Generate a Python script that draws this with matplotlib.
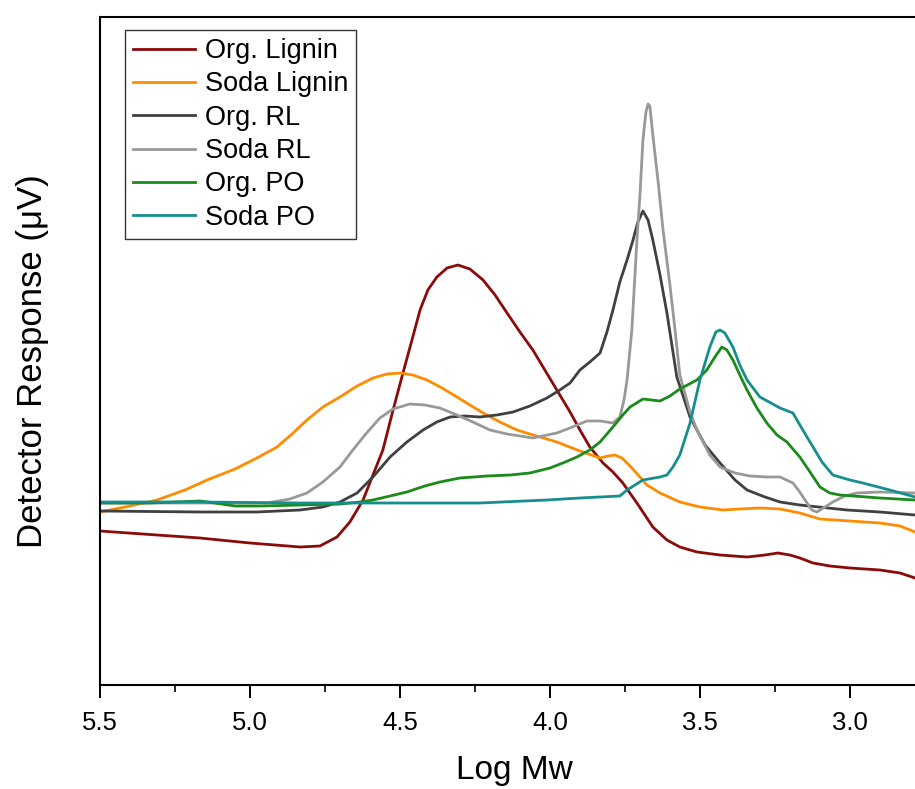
import matplotlib
matplotlib.use("Agg")
import matplotlib.pyplot as plt
from matplotlib.ticker import MultipleLocator, FormatStrFormatter

plt.rcParams['font.family'] = ['Liberation Sans', 'DejaVu Sans']

# ---- data (x = Log Mw, y = detector response, arbitrary units) ----
org_lignin_x = [5.500, 5.167, 5.000, 4.833, 4.767, 4.710, 4.667, 4.623, 4.590, 4.557, 4.523, 4.490,
                4.460, 4.433, 4.407, 4.377, 4.343, 4.307, 4.267, 4.223, 4.183, 4.143, 4.100, 4.057,
                4.017, 3.977, 3.933, 3.900, 3.867, 3.823, 3.790, 3.757, 3.710, 3.657, 3.610, 3.567,
                3.510, 3.433, 3.343, 3.283, 3.240, 3.200, 3.167, 3.123, 3.067, 3.000, 2.900, 2.833, 2.783]
org_lignin_y = [154, 147, 142, 138, 139, 148, 163, 185, 210, 235, 275, 312,
                345, 375, 395, 408, 417, 420, 416, 405, 390, 372, 353, 335,
                315, 295, 273, 255, 238, 222, 213, 202, 182, 158, 145, 138,
                133, 130, 128, 130, 132, 130, 127, 122, 119, 117, 115, 112, 107]

soda_lignin_x = [5.500, 5.400, 5.310, 5.217, 5.143, 5.050, 4.977, 4.910, 4.860, 4.810, 4.757, 4.700,
                 4.643, 4.590, 4.543, 4.500, 4.457, 4.410, 4.360, 4.310, 4.267, 4.223, 4.167, 4.110,
                 4.067, 3.977, 3.900, 3.833, 3.807, 3.783, 3.760, 3.733, 3.700, 3.677, 3.633, 3.567,
                 3.500, 3.423, 3.367, 3.300, 3.233, 3.167, 3.100, 3.000, 2.900, 2.833, 2.783]
soda_lignin_y = [173, 179, 185, 195, 205, 216, 227, 238, 251, 265, 278, 288,
                 299, 307, 311, 312, 310, 305, 297, 288, 280, 272, 263, 255,
                 251, 243, 234, 227, 229, 230, 227, 219, 208, 200, 192, 183,
                 178, 175, 176, 177, 176, 172, 166, 164, 162, 159, 153]

org_rl_x = [5.500, 5.167, 4.977, 4.833, 4.757, 4.700, 4.643, 4.590, 4.533, 4.477, 4.423, 4.377,
            4.333, 4.283, 4.233, 4.177, 4.123, 4.067, 4.010, 3.967, 3.933, 3.900, 3.867, 3.833,
            3.810, 3.790, 3.767, 3.743, 3.723, 3.707, 3.690, 3.673, 3.657, 3.633, 3.610, 3.577,
            3.533, 3.483, 3.433, 3.383, 3.343, 3.283, 3.233, 3.167, 3.010, 2.900, 2.783]
org_rl_y = [174, 173, 173, 175, 178, 183, 192, 208, 228, 243, 255, 263,
            268, 269, 268, 270, 273, 279, 287, 295, 302, 315, 323, 332,
            353, 375, 403, 425, 445, 463, 474, 465, 445, 410, 372, 308,
            268, 240, 222, 205, 195, 188, 183, 180, 175, 173, 170]

soda_rl_x = [5.500, 5.167, 4.943, 4.867, 4.810, 4.757, 4.700, 4.657, 4.617, 4.567, 4.523, 4.467,
             4.417, 4.367, 4.310, 4.257, 4.200, 4.143, 4.057, 3.977, 3.933, 3.877, 3.833, 3.790,
             3.767, 3.753, 3.743, 3.727, 3.710, 3.700, 3.690, 3.680, 3.673, 3.667, 3.657, 3.640,
             3.623, 3.600, 3.583, 3.567, 3.533, 3.510, 3.467, 3.433, 3.383, 3.333, 3.277, 3.233,
             3.190, 3.167, 3.143, 3.127, 3.110, 3.083, 3.057, 3.017, 2.977, 2.900, 2.783]
soda_rl_y = [182, 182, 182, 186, 192, 203, 218, 235, 250, 267, 276, 281,
             280, 277, 270, 263, 255, 251, 247, 252, 257, 264, 264, 262,
             268, 285, 305, 355, 445, 490, 545, 573, 581, 579, 550, 505,
             455, 400, 355, 310, 273, 255, 230, 218, 212, 209, 208, 208,
             202, 193, 182, 175, 173, 178, 183, 189, 192, 193, 192]

org_po_x = [5.500, 5.333, 5.167, 5.117, 5.050, 4.967, 4.833, 4.700, 4.633, 4.590, 4.533, 4.477,
            4.417, 4.367, 4.300, 4.210, 4.133, 4.067, 4.000, 3.957, 3.910, 3.867, 3.833, 3.790,
            3.760, 3.733, 3.690, 3.633, 3.600, 3.567, 3.510, 3.477, 3.450, 3.427, 3.410, 3.390,
            3.367, 3.343, 3.310, 3.277, 3.243, 3.210, 3.167, 3.133, 3.100, 3.067, 3.033, 2.900, 2.783]
org_po_y = [182, 182, 184, 182, 179, 179, 180, 181, 183, 185, 189, 193,
            199, 203, 207, 209, 210, 212, 217, 222, 228, 235, 243, 258,
            269, 278, 286, 284, 289, 296, 305, 315, 328, 338, 335, 325,
            310, 295, 277, 262, 250, 243, 228, 213, 198, 192, 190, 187, 185]

soda_po_x = [5.500, 5.167, 4.833, 4.500, 4.233, 4.010, 3.900, 3.767, 3.743, 3.690, 3.633, 3.610,
             3.590, 3.567, 3.533, 3.500, 3.467, 3.447, 3.433, 3.417, 3.390, 3.367, 3.343, 3.300,
             3.233, 3.190, 3.157, 3.123, 3.093, 3.057, 3.000, 2.957, 2.867, 2.783]
soda_po_y = [183, 183, 182, 182, 182, 185, 187, 189, 195, 205, 208, 210,
             218, 230, 262, 305, 338, 353, 355, 352, 338, 320, 305, 288,
             277, 272, 255, 238, 223, 210, 205, 202, 195, 188]

series_labels = ["Org. Lignin", "Soda Lignin", "Org. RL", "Soda RL", "Org. PO", "Soda PO"]
series_colors = ["#8B0A0A", "#FF8C00", "#404040", "#999999", "#1A8A1A", "#168E8E"]
xticks = [5.5, 5.0, 4.5, 4.0, 3.5, 3.0]

series = [(org_lignin_x, org_lignin_y), (soda_lignin_x, soda_lignin_y),
          (org_rl_x, org_rl_y), (soda_rl_x, soda_rl_y),
          (org_po_x, org_po_y), (soda_po_x, soda_po_y)]

fig = plt.figure(figsize=(9.15, 7.89), dpi=100)
ax = fig.add_axes([100/915, 1-685/789, 815/915, 668/789])

for (xs, ys), lab, col in zip(series, series_labels, series_colors):
    ax.plot(xs, ys, color=col, lw=2.0, label=lab, solid_joinstyle='round')

ax.set_xlim(5.5, 2.783)
ax.set_ylim(0, 668)
ax.set_xticks(xticks)
ax.xaxis.set_major_formatter(FormatStrFormatter('%.1f'))
ax.xaxis.set_minor_locator(MultipleLocator(0.25))
ax.set_yticks([])
ax.tick_params(axis='x', which='major', direction='out', length=9, width=1.4,
               labelsize=18.5, pad=10)
ax.tick_params(axis='x', which='minor', direction='out', length=5, width=1.2)
ax.spines['right'].set_visible(False)
for s in ['left', 'top', 'bottom']:
    ax.spines[s].set_linewidth(1.5)

ax.set_xlabel("Log Mw", fontsize=24)
ax.xaxis.set_label_coords(0.509, -0.105)
ax.set_ylabel("Detector Response (\u03bcV)", fontsize=25)
ax.yaxis.set_label_coords(-0.062, 0.485)

leg = ax.legend(loc='upper left', bbox_to_anchor=(0.0307, 0.9805), borderaxespad=0,
                fontsize=19.5, frameon=True, fancybox=False, framealpha=1,
                handlelength=2.3, handletextpad=0.35, labelspacing=0.27, borderpad=0.3)
leg.get_frame().set_edgecolor('#333333')
leg.get_frame().set_linewidth(1.0)

fig.savefig("out.png", dpi=100)
